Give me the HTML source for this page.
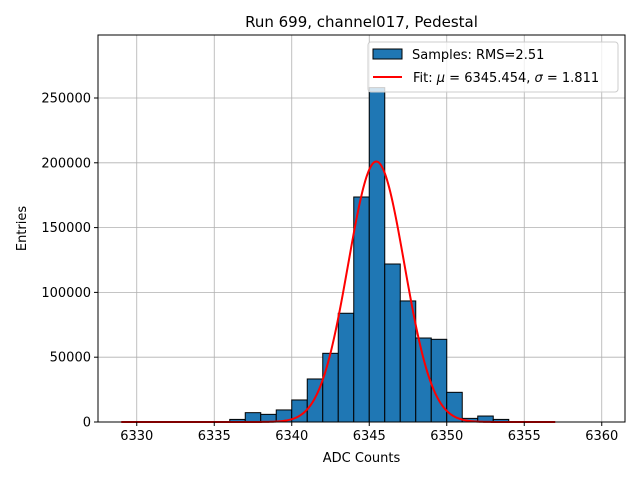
<!DOCTYPE html>
<html><head><meta charset="utf-8"><style>
body{margin:0;background:#fff;font-family:"Liberation Sans","DejaVu Sans",sans-serif}
</style></head><body>
<svg id="c" width="640" height="480" xmlns="http://www.w3.org/2000/svg" font-family="DejaVu Sans, Liberation Sans, sans-serif"></svg>
<script>
const bins=[6335,6336,6337,6338,6339,6340,6341,6342,6343,6344,6345,6346,6347,6348,6349,6350,6351,6352,6353,6354];
const counts=[300,2000,7200,5900,9300,17000,33200,53000,83900,173600,258000,121900,93400,64800,63800,22900,2800,4600,2000,300];
const xTicks=[6330,6335,6340,6345,6350,6355,6360];
const yTicks=[0,50000,100000,150000,200000,250000];
const fitMu=6345.454, fitSigma=1.811, fitAmp=201000, fitRange=[6329,6357];
const L=98,R=625,T=35,B=422,xmin=6327.5,xmax=6361.5,ymax=298600;
const X=v=>L+(v-xmin)/(xmax-xmin)*(R-L);
const Y=v=>B-v/ymax*(B-T);
const svg=document.getElementById('c');const NS='http://www.w3.org/2000/svg';
function mk(t,a,p){const e=document.createElementNS(NS,t);for(const k in a)e.setAttribute(k,a[k]);(p||svg).appendChild(e);return e;}
for(const t of xTicks){let g=mk('line',{x1:X(t),x2:X(t),y1:T,y2:B,stroke:'#b0b0b0','stroke-width':0.8});
}
for(const t of yTicks){let g=mk('line',{x1:L,x2:R,y1:Y(t),y2:Y(t),stroke:'#b0b0b0','stroke-width':0.8});
}
bins.forEach((b,i)=>{let r=mk('rect',{x:X(b),y:Y(counts[i]),width:X(b+1)-X(b),height:B-Y(counts[i]),fill:'#1f77b4',stroke:'#000','stroke-width':1});
});
let d='';for(let k=0;k<=400;k++){const v=fitRange[0]+(fitRange[1]-fitRange[0])*k/400;const y=fitAmp*Math.exp(-0.5*((v-fitMu)/fitSigma)**2);d+=(k?'L':'M')+X(v).toFixed(2)+','+Y(y).toFixed(2);}
let fl=mk('path',{d:d,fill:'none',stroke:'red','stroke-width':2});

let fr=mk('rect',{x:L,y:T,width:R-L,height:B-T,fill:'none',stroke:'#000','stroke-width':1});

for(const t of xTicks){mk('line',{x1:X(t),x2:X(t),y1:B,y2:B+4,stroke:'#000'});
let tx=mk('text',{x:X(t),y:B+18,'font-size':13,'text-anchor':'middle'});tx.textContent=t;
}
for(const t of yTicks){mk('line',{x1:L-4,x2:L,y1:Y(t),y2:Y(t),stroke:'#000'});
let tx=mk('text',{x:L-7,y:Y(t)+4.5,'font-size':13,'text-anchor':'end'});tx.textContent=t;
}
let tt=mk('text',{x:(L+R)/2,y:27,'font-size':15,'text-anchor':'middle'});tt.textContent='Run 699, channel017, Pedestal';

let xl=mk('text',{x:(L+R)/2,y:462,'font-size':13,'text-anchor':'middle'});xl.textContent='ADC Counts';

let yl=mk('text',{x:26,y:(T+B)/2,'font-size':13,'text-anchor':'middle',transform:'rotate(-90 26 '+(T+B)/2+')'});yl.textContent='Entries';

let lg=mk('g',{});
mk('rect',{x:368,y:42,width:250,height:50,rx:3,fill:'rgba(255,255,255,0.8)',stroke:'#ccc'},lg);
let e1=mk('rect',{x:373,y:49,width:29,height:10,fill:'#1f77b4',stroke:'#000'},lg);

let t1=mk('text',{x:412,y:59,'font-size':13},lg);t1.textContent='Samples: RMS=2.51';
let e2=mk('line',{x1:373,x2:402,y1:77,y2:77,stroke:'red','stroke-width':2},lg);

let t2=mk('text',{x:413,y:82,'font-size':13},lg);t2.innerHTML='Fit: <tspan font-style="italic">μ</tspan> = 6345.454, <tspan font-style="italic">σ</tspan> = 1.811';
</script>
</body></html>
